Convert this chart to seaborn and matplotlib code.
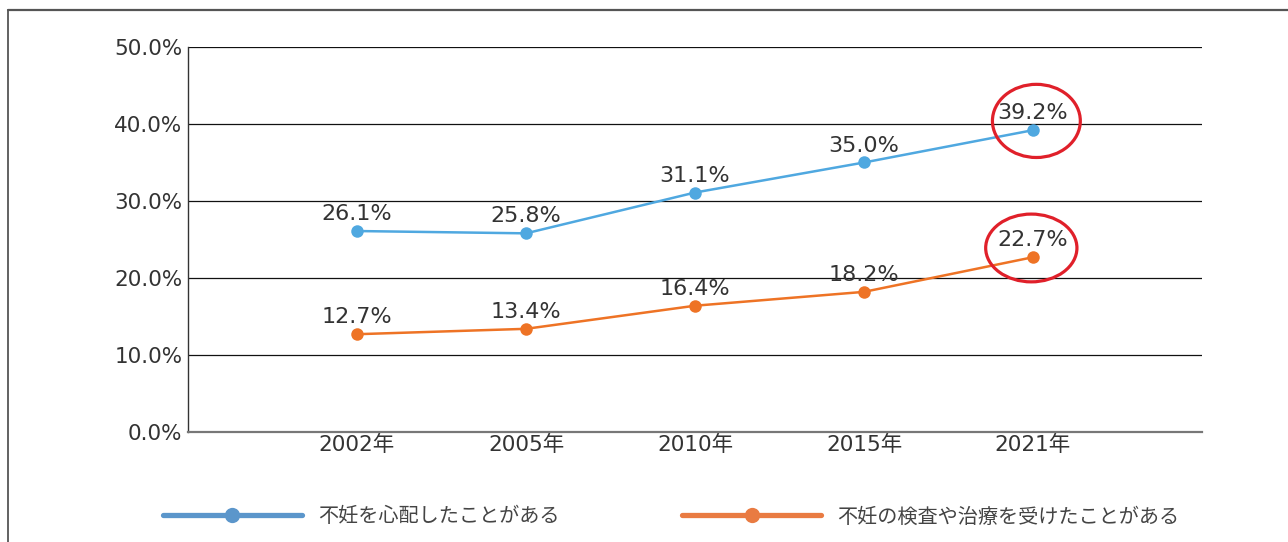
import matplotlib
matplotlib.use("Agg")
import matplotlib.pyplot as plt
import seaborn as sns
import pandas as pd
from matplotlib.lines import Line2D
from matplotlib.patches import Ellipse

years = ["2002年", "2005年", "2010年", "2015年", "2021年"]
series_names = ["不妊を心配したことがある", "不妊の検査や治療を受けたことがある"]
worry = [26.1, 25.8, 31.1, 35.0, 39.2]
treated = [12.7, 13.4, 16.4, 18.2, 22.7]
yticks = [0, 10, 20, 30, 40, 50]
ytick_labels = ["0.0%", "10.0%", "20.0%", "30.0%", "40.0%", "50.0%"]

line_colors = ["#4FA8E0", "#EE7325"]
legend_colors = ["#5B96CB", "#E97B42"]

sns.set_theme(style="white")
plt.rcParams["font.family"] = ["DejaVu Sans", "Noto Sans CJK JP"]

rows = []
for i, y in enumerate(years):
    rows.append({"pos": i + 1, "value": worry[i], "series": series_names[0]})
    rows.append({"pos": i + 1, "value": treated[i], "series": series_names[1]})
df = pd.DataFrame(rows)

W, H = 1288, 542
fig = plt.figure(figsize=(W / 100, H / 100), dpi=100)
fig.patch.set_facecolor("white")

# outer frame (left and top visible)
fig.add_artist(Line2D([8 / W, 8 / W], [-0.01, 1 - 10 / H], transform=fig.transFigure, color="#555555", lw=1.3))
fig.add_artist(Line2D([8 / W, 1.01], [1 - 10 / H, 1 - 10 / H], transform=fig.transFigure, color="#555555", lw=1.6))

ax = fig.add_axes([188 / W, (H - 432) / H, (1202 - 188) / W, (432 - 47) / H])

sns.lineplot(data=df, x="pos", y="value", hue="series", palette=dict(zip(series_names, line_colors)),
             marker="o", markersize=9, markeredgewidth=0, linewidth=1.8, legend=False, ax=ax)

ax.set_xlim(0, 6)
ax.set_ylim(0, 50)
ax.set_yticks(yticks)
ax.set_yticklabels(ytick_labels)
ax.set_xticks(range(1, len(years) + 1))
ax.set_xticklabels(years)
ax.set_xlabel("")
ax.set_ylabel("")
ax.tick_params(axis="both", length=0, labelsize=15.5, labelcolor="#333333")
ax.tick_params(axis="y", pad=4)
ax.tick_params(axis="x", pad=2)
for v in yticks[1:]:
    ax.axhline(v, color="#111111", lw=0.9, zorder=0)
for s in ["top", "right"]:
    ax.spines[s].set_visible(False)
ax.spines["left"].set_color("#333333")
ax.spines["left"].set_linewidth(1.0)
ax.spines["bottom"].set_color("#777777")
ax.spines["bottom"].set_linewidth(1.6)

for vals in (worry, treated):
    for i, v in enumerate(vals):
        ax.annotate(f"{v:.1f}%", (i + 1, v), xytext=(0, 5), textcoords="offset points",
                    ha="center", va="bottom", fontsize=16, color="#333333")

# red highlight ellipses around latest values
last = len(years)
ax.add_patch(Ellipse((last + 0.02, worry[-1] + 1.2), 0.52, 9.5, fill=False, edgecolor="#E0202A", lw=2.3, zorder=5))
ax.add_patch(Ellipse((last - 0.01, treated[-1] + 1.2), 0.54, 8.8, fill=False, edgecolor="#E0202A", lw=2.3, zorder=5))

handles = [Line2D([0], [0], color=c, lw=3.8, marker="o", markersize=11, markeredgewidth=0) for c in legend_colors]
fig.legend(handles, series_names, loc="center left", bbox_to_anchor=(163 / W, 1 - 517 / H),
           ncol=2, frameon=False, handlelength=6.9, handletextpad=0.8,
           columnspacing=6.1, borderpad=0, borderaxespad=0, labelcolor="#444444",
           prop={"family": ["Noto Sans CJK JP"], "size": 14.5})

fig.savefig("out.png", dpi=100, facecolor="white")
